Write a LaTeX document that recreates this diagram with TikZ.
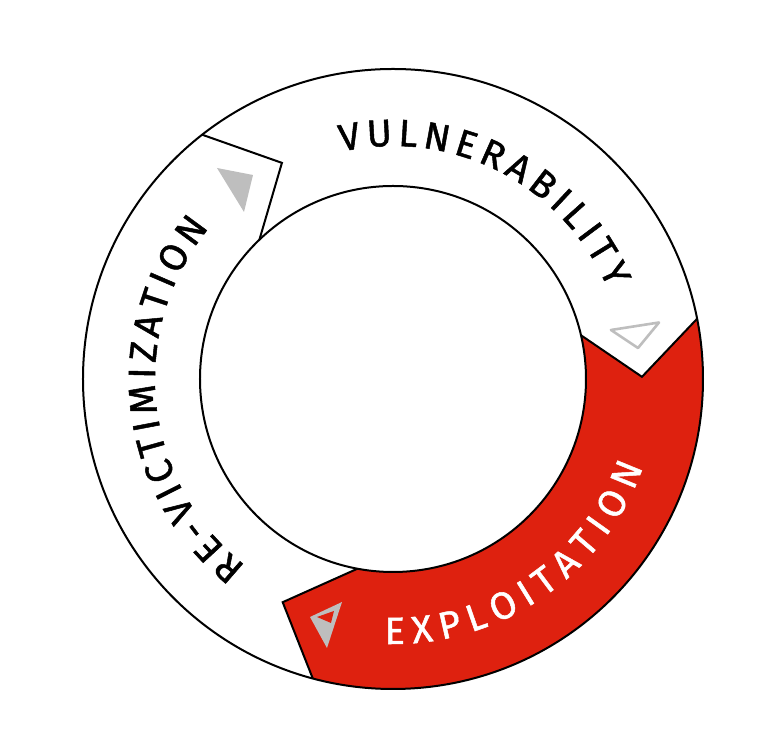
\documentclass[tikz,border=0pt]{standalone}
\usepackage{fontspec}
\newfontfamily\ringfont[BoldFont={Fira Sans}, BoldFeatures={FakeBold=1.3}]{Fira Sans}
\newcommand\ringfmt{\ringfont\bfseries\fontsize{19}{22}\selectfont}
\usetikzlibrary{decorations.text}
\definecolor{ringred}{RGB}{222,33,15}
\definecolor{markgray}{RGB}{190,190,190}
\begin{document}
\begin{tikzpicture}[x=0.5pt, y=0.5pt,
        ringline/.style={line width=1pt, line join=miter},
        ringtext/.style={decorate, decoration={text along path, text align=fit to path, text={#1}}}]
        \useasboundingbox (-393,-369) rectangle (379,379);
        \fill[ringred] (11.2:310) -- (0.5:249) -- (13.1:193) arc[start angle=13.1, end angle=-100.6, radius=193] -- (-116.3:249) -- (-105:310) arc[start angle=-105, end angle=11.2, radius=310] -- cycle;
        \draw[ringline] (0,0) circle[radius=310];
        \draw[ringline] (0,0) circle[radius=193];
        \draw[ringline] (128:310) -- (117.2:243) -- (133.8:193);
        \draw[ringline] (11.2:310) -- (0.5:249) -- (13.1:193);
        \draw[ringline] (-105:310) -- (-116.3:249) -- (-100.6:193);

        \fill[markgray] (-176,211) -- (-140,204) -- (-149,167) -- cycle;
        \draw[markgray, line width=1.3pt, line join=round] (218,49) -- (266,56.5) -- (245,31) -- cycle;
        \fill[markgray] (-83,-238) -- (-51,-223) -- (-66,-269) -- cycle;
        \fill[ringred] (-76,-238) -- (-59,-232) -- (-62,-244) -- cycle;

        \path[ringtext={|\ringfmt|VULNERABILITY}] (102.8:233) arc[start angle=102.8, end angle=22.8, radius=233];
        \path[ringtext={|\ringfmt\color{white}|EXPLOITATION}] (-91.8:265) arc[start angle=-91.8, end angle=-19.4, radius=265];
        \path[ringtext={|\ringfmt|RE-VICTIMIZATION}] (231.8:238) arc[start angle=231.8, end angle=140.5, radius=238];
\end{tikzpicture}
\end{document}
